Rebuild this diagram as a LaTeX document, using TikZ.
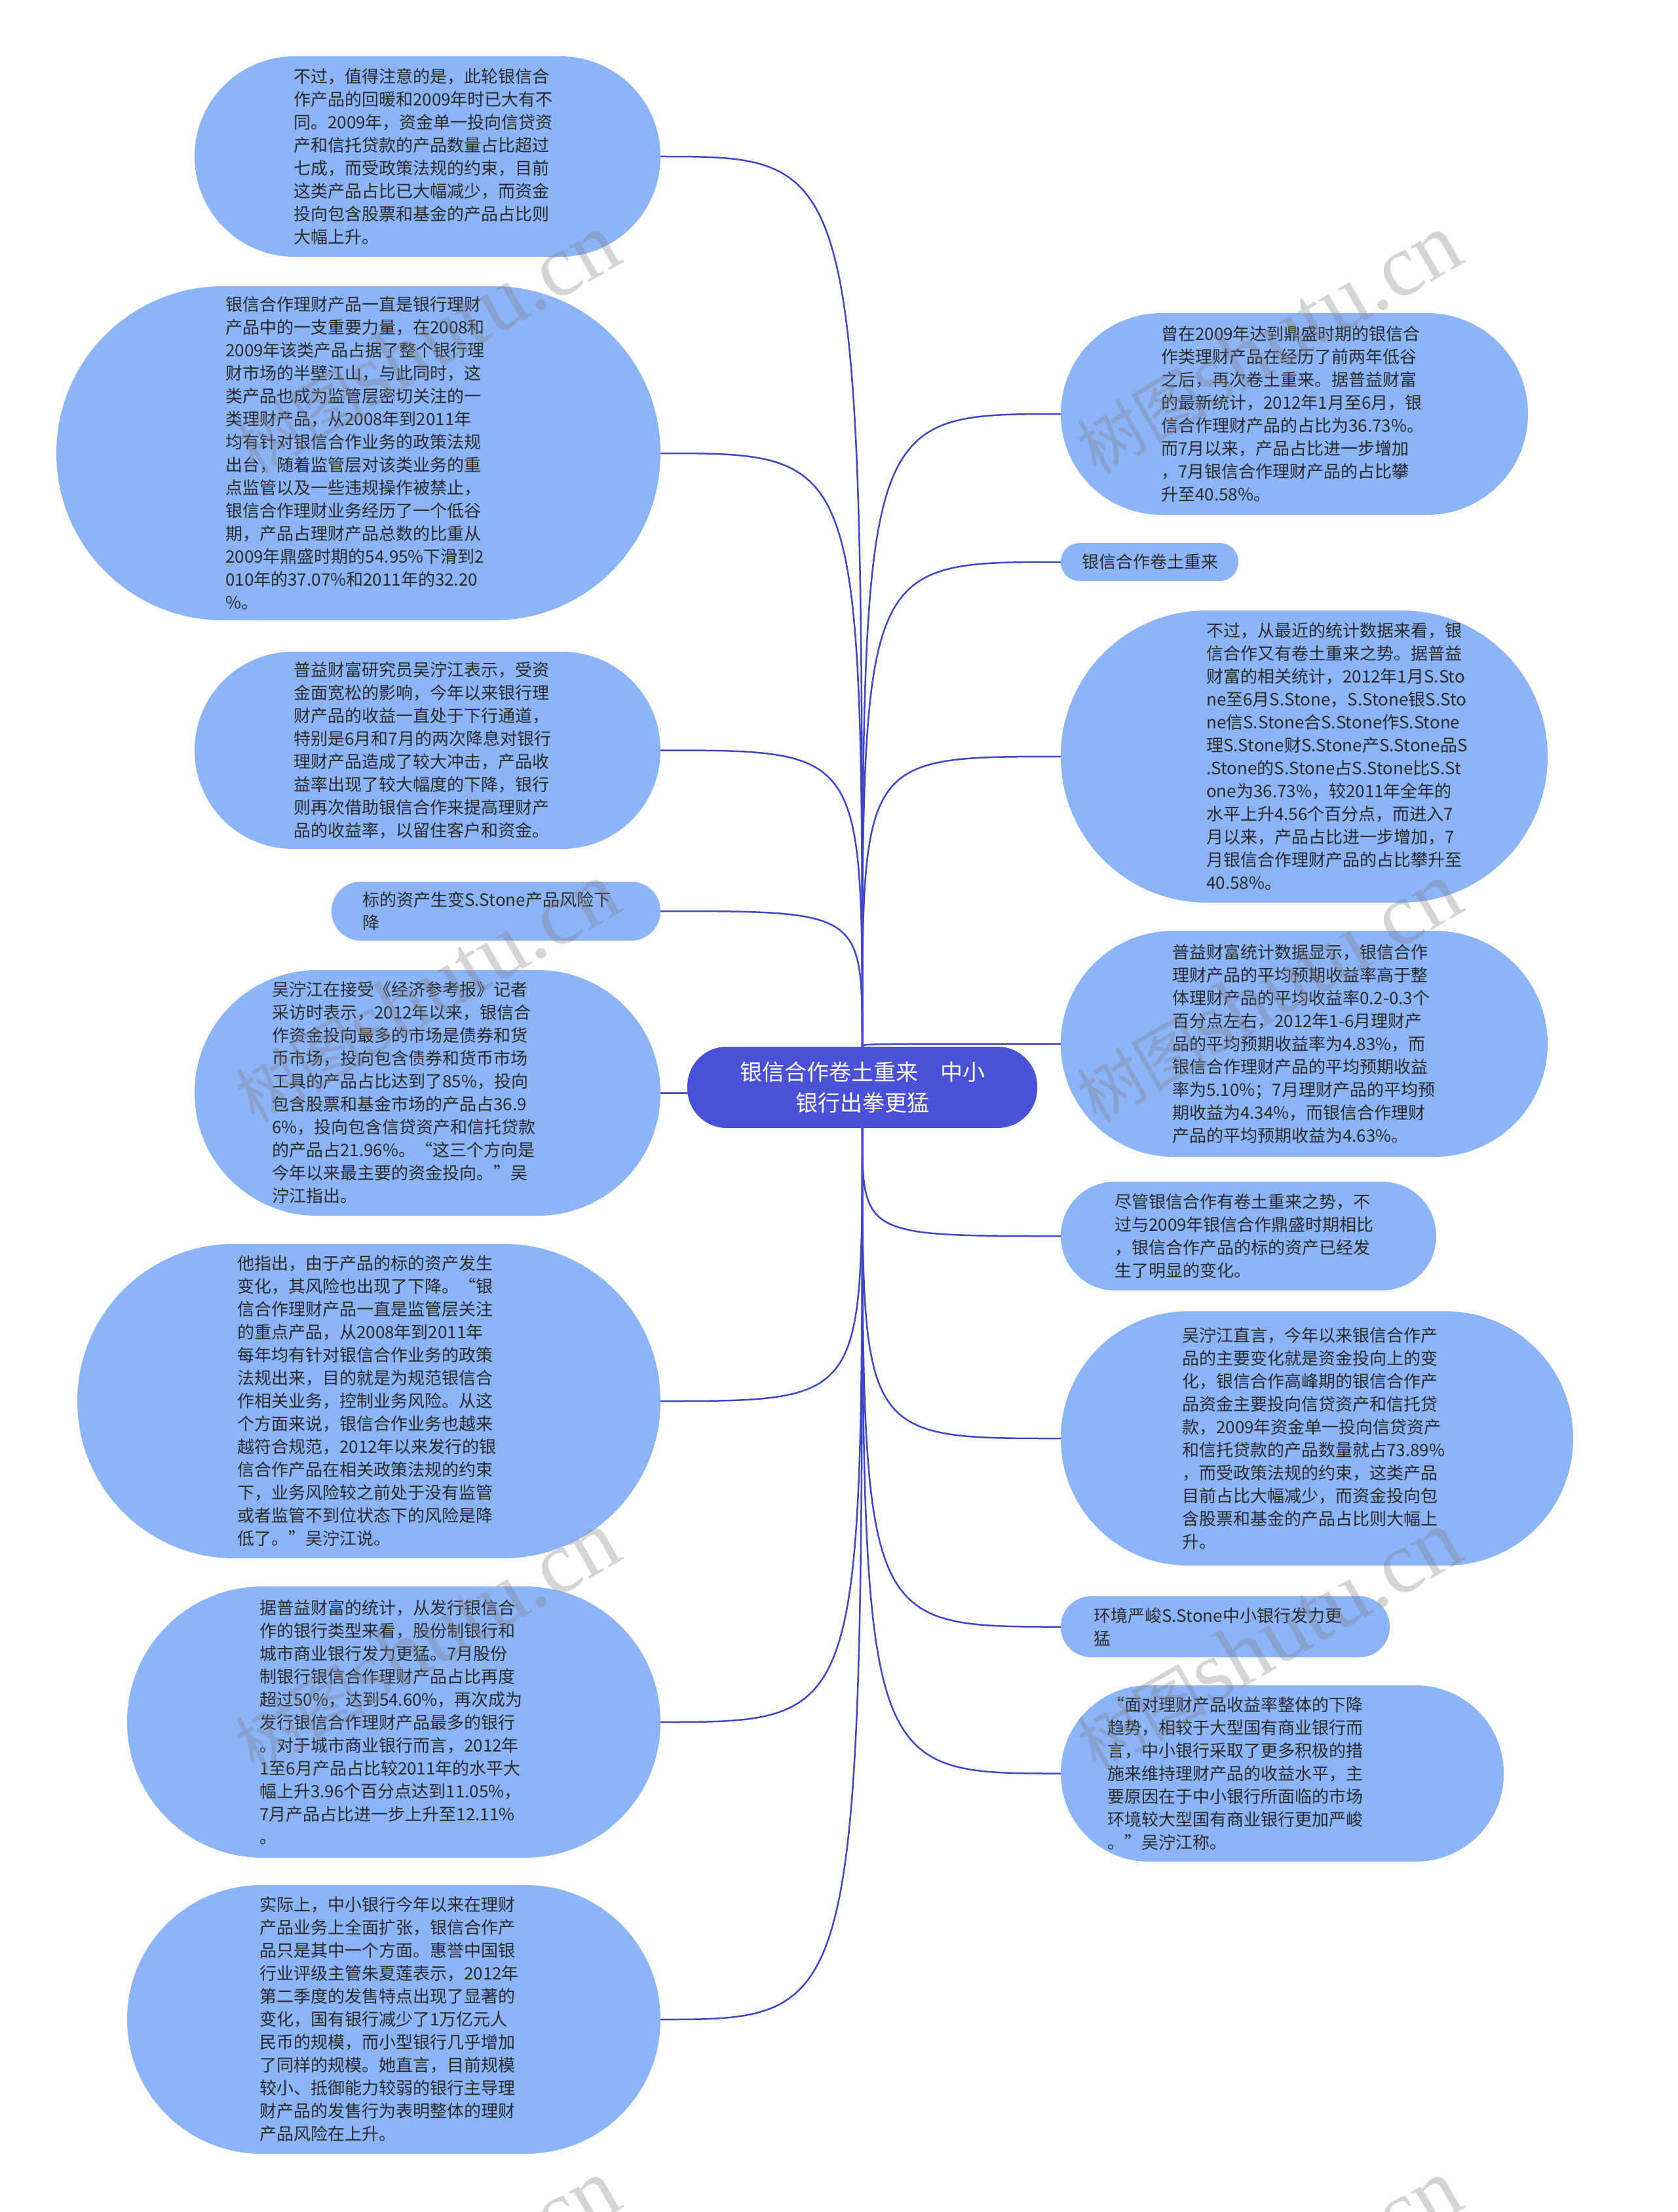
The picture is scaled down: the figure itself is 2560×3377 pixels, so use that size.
\documentclass[tikz,border=0pt]{standalone}
\usepackage{fontspec}
\setmainfont{Noto Sans CJK SC}
\newfontfamily\wmlatin{Liberation Serif}
\definecolor{bub}{HTML}{8BB4F9}
\definecolor{rootc}{HTML}{4B51D6}
\definecolor{linkc}{HTML}{3F46C8}
\definecolor{txtc}{HTML}{2A2A2A}
\begin{document}
\begin{tikzpicture}[x=1pt,y=-1pt,
  bubble/.style={fill=bub, draw=none, rectangle, inner sep=0pt},
  rootbox/.style={fill=rootc, draw=none, rectangle, inner sep=0pt, text=white, align=center, font=\fontsize{34pt}{47pt}\selectfont},
  txt/.style={anchor=west, align=left, inner sep=0pt, text=txtc, font=\fontsize{26pt}{35pt}\selectfont},
  link/.style={draw=linkc, line width=2.5pt},
  wm/.style={rotate=30, text=gray, opacity=0.33, inner sep=0pt}
]
\useasboundingbox (0,0) rectangle (2560,3377);
\fill[white] (0,0) rectangle (2560,3377);

% ---------- shapes (coordinates only, drawn after links) ----------
\path
  (652.5,239) coordinate (cL1)
  (547,692) coordinate (cL2)
  (652.5,1145.5) coordinate (cL3)
  (757,1391) coordinate (cL4)
  (652.5,1668.5) coordinate (cL5)
  (563,2139) coordinate (cL6)
  (601,2629) coordinate (cL7)
  (601,3083) coordinate (cL8)
  (1975.5,632) coordinate (cR1)
  (1754.5,858) coordinate (cR2)
  (1990.5,1155) coordinate (cR3)
  (1990.5,1593.5) coordinate (cR4)
  (1905.5,1887) coordinate (cR5)
  (2010,2196) coordinate (cR6)
  (1870,2483.5) coordinate (cR7)
  (1957,2707.5) coordinate (cR8);

% invisible placeholders to get anchors before drawing links
\node[inner sep=0pt, minimum width=534pt, minimum height=124pt] (rootA) at (1316,1660) {};
\node[inner sep=0pt, minimum width=711pt, minimum height=306pt] (L1) at (cL1) {};
\node[inner sep=0pt, minimum width=922pt, minimum height=510pt] (L2) at (cL2) {};
\node[inner sep=0pt, minimum width=711pt, minimum height=301pt] (L3) at (cL3) {};
\node[inner sep=0pt, minimum width=502pt, minimum height=90pt] (L4) at (cL4) {};
\node[inner sep=0pt, minimum width=711pt, minimum height=375pt] (L5) at (cL5) {};
\node[inner sep=0pt, minimum width=890pt, minimum height=480pt] (L6) at (cL6) {};
\node[inner sep=0pt, minimum width=814pt, minimum height=414pt] (L7) at (cL7) {};
\node[inner sep=0pt, minimum width=814pt, minimum height=410pt] (L8) at (cL8) {};
\node[inner sep=0pt, minimum width=713pt, minimum height=308pt] (R1) at (cR1) {};
\node[inner sep=0pt, minimum width=271pt, minimum height=58pt] (R2) at (cR2) {};
\node[inner sep=0pt, minimum width=743pt, minimum height=446pt] (R3) at (cR3) {};
\node[inner sep=0pt, minimum width=743pt, minimum height=345pt] (R4) at (cR4) {};
\node[inner sep=0pt, minimum width=573pt, minimum height=166pt] (R5) at (cR5) {};
\node[inner sep=0pt, minimum width=782pt, minimum height=388pt] (R6) at (cR6) {};
\node[inner sep=0pt, minimum width=502pt, minimum height=93pt] (R7) at (cR7) {};
\node[inner sep=0pt, minimum width=676pt, minimum height=269pt] (R8) at (cR8) {};

% ---------- connectors ----------
\foreach \n in {L1,L2,L3,L4}{
  \draw[link] (rootA.north) .. controls (rootA.north |- \n.east) and (rootA.north |- \n.east) .. (\n.east);
}
\foreach \n in {L5,L6,L7,L8}{
  \draw[link] (rootA.south) .. controls (rootA.south |- \n.east) and (rootA.south |- \n.east) .. (\n.east);
}
\foreach \n in {R1,R2,R3,R4}{
  \draw[link] (rootA.north) .. controls (rootA.north |- \n.west) and (rootA.north |- \n.west) .. (\n.west);
}
\foreach \n in {R5,R6,R7,R8}{
  \draw[link] (rootA.south) .. controls (rootA.south |- \n.west) and (rootA.south |- \n.west) .. (\n.west);
}

% ---------- bubbles ----------
\node[bubble, minimum width=711pt, minimum height=306pt, rounded corners=152.5pt] (bL1) at (cL1) {};
\node[bubble, minimum width=922pt, minimum height=510pt, rounded corners=254.5pt] (bL2) at (cL2) {};
\node[bubble, minimum width=711pt, minimum height=301pt, rounded corners=150pt] (bL3) at (cL3) {};
\node[bubble, minimum width=502pt, minimum height=90pt, rounded corners=44.5pt] (bL4) at (cL4) {};
\node[bubble, minimum width=711pt, minimum height=375pt, rounded corners=187pt] (bL5) at (cL5) {};
\node[bubble, minimum width=890pt, minimum height=480pt, rounded corners=239.5pt] (bL6) at (cL6) {};
\node[bubble, minimum width=814pt, minimum height=414pt, rounded corners=206.5pt] (bL7) at (cL7) {};
\node[bubble, minimum width=814pt, minimum height=410pt, rounded corners=204.5pt] (bL8) at (cL8) {};
\node[bubble, minimum width=713pt, minimum height=308pt, rounded corners=153.5pt] (bR1) at (cR1) {};
\node[bubble, minimum width=271pt, minimum height=58pt, rounded corners=28.5pt] (bR2) at (cR2) {};
\node[bubble, minimum width=743pt, minimum height=446pt, rounded corners=222.5pt] (bR3) at (cR3) {};
\node[bubble, minimum width=743pt, minimum height=345pt, rounded corners=172pt] (bR4) at (cR4) {};
\node[bubble, minimum width=573pt, minimum height=166pt, rounded corners=82.5pt] (bR5) at (cR5) {};
\node[bubble, minimum width=782pt, minimum height=388pt, rounded corners=193.5pt] (bR6) at (cR6) {};
\node[bubble, minimum width=502pt, minimum height=93pt, rounded corners=46pt] (bR7) at (cR7) {};
\node[bubble, minimum width=676pt, minimum height=269pt, rounded corners=134pt] (bR8) at (cR8) {};

\node[rootbox, minimum width=534pt, minimum height=124pt, rounded corners=60pt] (root) at (1316,1660) {银信合作卷土重来　中小\\银行出拳更猛};

% ---------- texts ----------
\node[txt] (tL1) at (448,239) {不过，值得注意的是，此轮银信合\\作产品的回暖和2009年时已大有不\\同。2009年，资金单一投向信贷资\\产和信托贷款的产品数量占比超过\\七成，而受政策法规的约束，目前\\这类产品占比已大幅减少，而资金\\投向包含股票和基金的产品占比则\\大幅上升。};

\node[txt] (tL2) at (344,692) {银信合作理财产品一直是银行理财\\产品中的一支重要力量，在2008和\\2009年该类产品占据了整个银行理\\财市场的半壁江山，与此同时，这\\类产品也成为监管层密切关注的一\\类理财产品，从2008年到2011年\\均有针对银信合作业务的政策法规\\出台，随着监管层对该类业务的重\\点监管以及一些违规操作被禁止，\\银信合作理财业务经历了一个低谷\\期，产品占理财产品总数的比重从\\2009年鼎盛时期的54.95\%下滑到2\\010年的37.07\%和2011年的32.20\\\%。};

\node[txt] (tL3) at (448,1145.5) {普益财富研究员吴泞江表示，受资\\金面宽松的影响，今年以来银行理\\财产品的收益一直处于下行通道，\\特别是6月和7月的两次降息对银行\\理财产品造成了较大冲击，产品收\\益率出现了较大幅度的下降，银行\\则再次借助银信合作来提高理财产\\品的收益率，以留住客户和资金。};

\node[txt] (tL4) at (553,1391) {标的资产生变S.Stone产品风险下\\降};

\node[txt] (tL5) at (415,1668.5) {吴泞江在接受《经济参考报》记者\\采访时表示，2012年以来，银信合\\作资金投向最多的市场是债券和货\\币市场，投向包含债券和货币市场\\工具的产品占比达到了85\%，投向\\包含股票和基金市场的产品占36.9\\6\%，投向包含信贷资产和信托贷款\\的产品占21.96\%。“这三个方向是\\今年以来最主要的资金投向。”吴\\泞江指出。};

\node[txt] (tL6) at (362,2139) {他指出，由于产品的标的资产发生\\变化，其风险也出现了下降。“银\\信合作理财产品一直是监管层关注\\的重点产品，从2008年到2011年\\每年均有针对银信合作业务的政策\\法规出来，目的就是为规范银信合\\作相关业务，控制业务风险。从这\\个方面来说，银信合作业务也越来\\越符合规范，2012年以来发行的银\\信合作产品在相关政策法规的约束\\下，业务风险较之前处于没有监管\\或者监管不到位状态下的风险是降\\低了。”吴泞江说。};

\node[txt] (tL7) at (396,2629) {据普益财富的统计，从发行银信合\\作的银行类型来看，股份制银行和\\城市商业银行发力更猛。7月股份\\制银行银信合作理财产品占比再度\\超过50\%，达到54.60\%，再次成为\\发行银信合作理财产品最多的银行\\。对于城市商业银行而言，2012年\\1至6月产品占比较2011年的水平大\\幅上升3.96个百分点达到11.05\%，\\7月产品占比进一步上升至12.11\%\\。};

\node[txt] (tL8) at (396,3083) {实际上，中小银行今年以来在理财\\产品业务上全面扩张，银信合作产\\品只是其中一个方面。惠誉中国银\\行业评级主管朱夏莲表示，2012年\\第二季度的发售特点出现了显著的\\变化，国有银行减少了1万亿元人\\民币的规模，而小型银行几乎增加\\了同样的规模。她直言，目前规模\\较小、抵御能力较弱的银行主导理\\财产品的发售行为表明整体的理财\\产品风险在上升。};

\node[txt] (tR1) at (1772,632) {曾在2009年达到鼎盛时期的银信合\\作类理财产品在经历了前两年低谷\\之后，再次卷土重来。据普益财富\\的最新统计，2012年1月至6月，银\\信合作理财产品的占比为36.73\%。\\而7月以来，产品占比进一步增加\\，7月银信合作理财产品的占比攀\\升至40.58\%。};

\node[txt] (tR2) at (1651,858) {银信合作卷土重来};

\node[txt] (tR3) at (1841,1155) {不过，从最近的统计数据来看，银\\信合作又有卷土重来之势。据普益\\财富的相关统计，2012年1月S.Sto\\ne至6月S.Stone，S.Stone银S.Sto\\ne信S.Stone合S.Stone作S.Stone\\理S.Stone财S.Stone产S.Stone品S\\.Stone的S.Stone占S.Stone比S.St\\one为36.73\%，较2011年全年的\\水平上升4.56个百分点，而进入7\\月以来，产品占比进一步增加，7\\月银信合作理财产品的占比攀升至\\40.58\%。};

\node[txt] (tR4) at (1789,1593.5) {普益财富统计数据显示，银信合作\\理财产品的平均预期收益率高于整\\体理财产品的平均收益率0.2-0.3个\\百分点左右，2012年1-6月理财产\\品的平均预期收益率为4.83\%，而\\银信合作理财产品的平均预期收益\\率为5.10\%；7月理财产品的平均预\\期收益为4.34\%，而银信合作理财\\产品的平均预期收益为4.63\%。};

\node[txt] (tR5) at (1701,1887) {尽管银信合作有卷土重来之势，不\\过与2009年银信合作鼎盛时期相比\\，银信合作产品的标的资产已经发\\生了明显的变化。};

\node[txt] (tR6) at (1804,2196) {吴泞江直言，今年以来银信合作产\\品的主要变化就是资金投向上的变\\化，银信合作高峰期的银信合作产\\品资金主要投向信贷资产和信托贷\\款，2009年资金单一投向信贷资产\\和信托贷款的产品数量就占73.89\%\\，而受政策法规的约束，这类产品\\目前占比大幅减少，而资金投向包\\含股票和基金的产品占比则大幅上\\升。};

\node[txt] (tR7) at (1669,2483.5) {环境严峻S.Stone中小银行发力更\\猛};

\node[txt] (tR8) at (1690,2707.5) {“面对理财产品收益率整体的下降\\趋势，相较于大型国有商业银行而\\言，中小银行采取了更多积极的措\\施来维持理财产品的收益水平，主\\要原因在于中小银行所面临的市场\\环境较大型国有商业银行更加严峻\\。”吴泞江称。};

% ---------- watermarks ----------
\foreach \wx/\wy/\k in {650/525/1,1935/525/2,650/1515/3,1935/1515/4,650/2505/5,1935/2505/6,650/3495/7,1935/3495/8}{
  \node[wm] (wm\k) at (\wx,\wy) {{\fontsize{100pt}{100pt}\selectfont 树图}{\wmlatin\fontsize{135pt}{135pt}\selectfont shutu.cn}};
}
\end{tikzpicture}
\end{document}
